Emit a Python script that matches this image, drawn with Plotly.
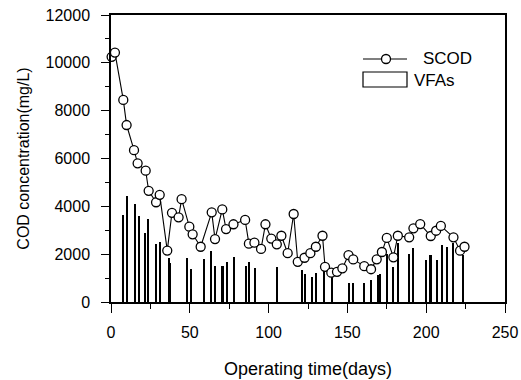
import plotly.graph_objects as go

# SCOD (mg/L)
scod_days = [0.4, 2.5, 7.8, 9.9, 14.6, 16.9, 22.0, 23.9, 28.6, 30.9, 35.7, 38.7, 42.9, 44.8,
             49.7, 51.8, 56.9, 63.9, 66.0, 70.6, 73.0, 77.7, 85.1, 87.5, 91.0, 95.2, 98.0,
             101.7, 105.2, 108.1, 112.1, 115.9, 118.5, 122.8, 126.5, 130.0, 134.2, 135.8,
             139.8, 143.4, 146.8, 150.7, 153.7, 160.7, 165.0, 168.6, 171.9, 175.0, 179.2,
             182.0, 189.2, 191.9, 196.2, 202.9, 206.3, 209.3, 217.3, 221.5, 224.3]
scod_vals = [10250, 10430, 8450, 7400, 6350, 5800, 5490, 4650, 4170, 4480, 2150, 3730, 3540, 4300,
             3150, 2830, 2310, 3750, 2630, 3870, 3050, 3250, 3430, 2440, 2480, 2220, 3250,
             2650, 2410, 2770, 2040, 3680, 1680, 1850, 2040, 2310, 2770, 1470,
             1225, 1260, 1410, 1960, 1780, 1500, 1370, 1785, 2090, 2680, 1870,
             2770, 2705, 3080, 3260, 2760, 2980, 3180, 2705, 2145, 2310]

# VFAs (mg/L)
vfa_days = [7.8, 10.1, 15.2, 17.9, 22.0, 23.9, 28.9, 31.1, 36.9, 37.8, 48.2, 51.2, 59.0, 63.9,
            66.2, 70.9, 74.0, 78.2, 85.8, 88.0, 91.4, 105.2, 121.2, 123.0, 127.9, 130.4, 135.5,
            140.3, 151.0, 153.9, 160.8, 165.1, 169.4, 171.1, 175.5, 179.2, 182.0, 189.2, 192.0,
            199.9, 202.9, 207.3, 210.3, 213.6, 217.2, 223.5]
vfa_vals = [3650, 4450, 4080, 3580, 2900, 3460, 2420, 2500, 1860, 1610, 1860, 1390, 1780, 2150,
            1520, 1520, 1660, 1880, 1520, 1660, 1410, 1470, 1330, 1170, 1045, 1210, 1300,
            1150, 800, 800, 800, 910, 1120, 1180, 2000, 1450, 2480, 2000, 2250,
            1750, 1950, 1760, 2390, 2320, 2470, 1950]

x_ticks = [0, 50, 100, 150, 200, 250]
y_ticks = [0, 2000, 4000, 6000, 8000, 10000, 12000]
legend_names = ["SCOD", "VFAs"]

FONT = "Liberation Sans, Arial, sans-serif"

fig = go.Figure()
fig.add_trace(go.Bar(x=vfa_days, y=vfa_vals, width=1.0,
                     marker=dict(color="black", line=dict(width=0)),
                     showlegend=False, name=legend_names[1]))
fig.add_trace(go.Scatter(x=scod_days, y=scod_vals, mode="lines+markers", name=legend_names[0],
                         line=dict(color="black", width=1.1),
                         marker=dict(symbol="circle", size=9, color="white",
                                     line=dict(color="black", width=1.3)),
                         cliponaxis=False, showlegend=False))

# manual legend (paper coordinates)
def px_x(p):
    return (p - 111) / 394.0

def px_y(p):
    return (302 - p) / 287.0

shapes = [
    dict(type="line", xref="paper", yref="paper", x0=px_x(363), x1=px_x(407),
         y0=px_y(59), y1=px_y(59), line=dict(color="black", width=1.2)),
    dict(type="circle", xref="paper", yref="paper", xsizemode="pixel", ysizemode="pixel",
         xanchor=px_x(386), yanchor=px_y(59), x0=-4.5, x1=4.5, y0=-4.5, y1=4.5,
         fillcolor="white", line=dict(color="black", width=1.3)),
    dict(type="rect", xref="paper", yref="paper", x0=px_x(363), x1=px_x(407),
         y0=px_y(87), y1=px_y(72), fillcolor="white", line=dict(color="black", width=1.2)),
]
annotations = [
    dict(text=legend_names[0], xref="paper", yref="paper", x=px_x(421), y=px_y(59),
         xanchor="left", yanchor="middle", showarrow=False, font=dict(size=17)),
    dict(text=legend_names[1], xref="paper", yref="paper", x=px_x(412), y=px_y(80),
         xanchor="left", yanchor="middle", showarrow=False, font=dict(size=17)),
]

fig.update_layout(
    width=521, height=380,
    margin=dict(l=111, r=16, t=15, b=78),
    plot_bgcolor="white", paper_bgcolor="white",
    font=dict(family=FONT, size=16, color="black"),
    showlegend=False,
    shapes=shapes, annotations=annotations,
    bargap=0,
)
fig.update_xaxes(range=[0, 250], tickvals=x_ticks, tickformat="d",
                 ticks="outside", ticklen=9, tickwidth=1.2, tickcolor="black",
                 ticklabelstandoff=6, automargin=False,
                 minor=dict(tickvals=[25, 75, 125, 175, 225], ticks="outside", ticklen=5,
                            tickwidth=1.2, tickcolor="black", showgrid=False),
                 showline=True, linecolor="black", linewidth=1.5, mirror=True,
                 showgrid=False, zeroline=False,
                 title=dict(text="Operating time(days)", font=dict(size=18), standoff=22),
                 tickfont=dict(size=16))
fig.update_yaxes(range=[0, 12000], tickvals=y_ticks, tickformat="d",
                 ticks="outside", ticklen=8, tickwidth=1.2, tickcolor="black",
                 ticklabelstandoff=8, automargin=False,
                 minor=dict(tickvals=[1000, 3000, 5000, 7000, 9000, 11000], ticks="outside",
                            ticklen=4, tickwidth=1.2, tickcolor="black", showgrid=False),
                 showline=True, linecolor="black", linewidth=1.5, mirror=True,
                 showgrid=False, zeroline=False,
                 title=dict(text="COD concentration(mg/L)", font=dict(size=16), standoff=12),
                 tickfont=dict(size=16))

fig.write_html("out.html")
